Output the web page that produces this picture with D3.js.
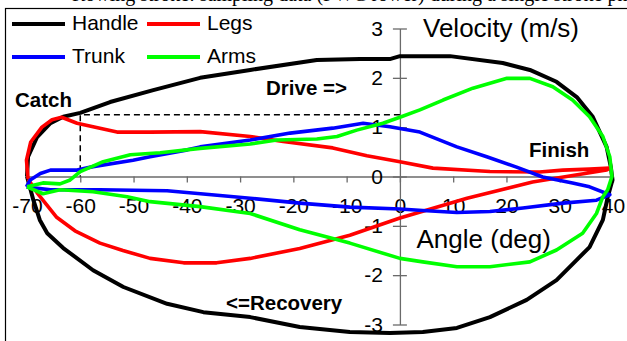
<!DOCTYPE html>
<html>
<head>
<meta charset="utf-8">
<script src="https://cdn.jsdelivr.net/npm/d3@7"></script>
<style>
  body { margin: 0; background: #fff; }
  svg { display: block; font-family: "Liberation Sans", Arial, sans-serif; }
</style>
</head>
<body>
<svg id="chart" width="627" height="341"></svg>
<script>
// angle (deg) / velocity (m/s) loops, drive then recovery
var handleAngle = [-70, -69.8, -68.1, -65.6, -63.2, -60, -54.4, -46.3, -37.5, -28.1, -15.6, -7.5, -1.9, 0, 9.4, 19.3, 24.4, 29.4, 33.2, 36.2, 38.8, 39.6, 39.9,
  39, 38.1, 35.6, 33.2, 29.4, 23.8, 16.9, 10.7, 4.3, -1.9, -9.4, -18.8, -28.1, -36.9, -43.7, -51.9, -57.6, -63.2, -66.2, -67.6, -68.8, -70];
var handleVel = [0, 0.4, 0.8, 1.08, 1.21, 1.29, 1.51, 1.75, 2.0, 2.16, 2.36, 2.38, 2.38, 2.44, 2.44, 2.3, 2.16, 1.92, 1.61, 1.21, 0.6, 0.19, -0.07,
  -0.42, -0.88, -1.43, -1.69, -2.1, -2.5, -2.85, -3.07, -3.15, -3.17, -3.15, -3.05, -2.85, -2.75, -2.58, -2.24, -1.9, -1.45, -1.15, -0.88, -0.48, 0];

var legsAngle = [-69.8, -70.1, -69.3, -67.2, -65.3, -63.5, -60.6, -53.1, -46.9, -37.5, -28.1, -21.9, -12.6, -6.2, 0, 6.2, 16.9, 26.2, 30.6, 35.6, 39.4,
  38.8, 24.9, 12.6, 0, -9.4, -18.8, -28.1, -34.4, -40.6, -46.9, -52, -56.3, -61, -64.5, -68.1, -69.8];
var legsVel = [-0.05, 0.33, 0.7, 1.0, 1.15, 1.2, 1.08, 0.9, 0.9, 0.91, 0.81, 0.71, 0.58, 0.42, 0.3, 0.17, 0.1, 0.09, 0.13, 0.15, 0.17,
  0.13, -0.11, -0.44, -0.84, -1.19, -1.46, -1.66, -1.75, -1.75, -1.66, -1.5, -1.35, -1.1, -0.82, -0.33, -0.05];

var trunkAngle = [-70.1, -69.4, -67.5, -65.6, -60.6, -57.6, -50.1, -46.9, -39.9, -37.5, -28.1, -20.6, -12.6, -6.9, -1.9, 3.75, 10.7, 16.3, 21.9, 26.8, 32.4, 35.6, 39.4,
  36.9, 30.6, 23.1, 16.9, 10.7, 4.3, 0, -9.4, -18.8, -28.1, -34.3, -43.7, -56.3, -65.6, -68.8, -70.1];
var trunkVel = [-0.21, -0.07, 0.06, 0.13, 0.13, 0.2, 0.33, 0.4, 0.54, 0.6, 0.74, 0.88, 0.98, 1.08, 1.01, 0.9, 0.6, 0.4, 0.19, -0.01, -0.13, -0.21, -0.37,
  -0.48, -0.54, -0.64, -0.71, -0.73, -0.69, -0.66, -0.62, -0.54, -0.44, -0.38, -0.29, -0.27, -0.27, -0.23, -0.21];

var armsAngle = [-70, -67, -63.8, -61.9, -60, -55.7, -50.6, -45, -37.5, -28.1, -23.1, -15.6, -11.8, -8.1, -3.2, 0, 3.75, 8.1, 13.7, 20.1, 24.4, 28.7, 32.4, 35.6, 38.1, 39.4, 39.8,
  39, 38.1, 36.9, 34.3, 29.4, 24.4, 16.9, 10.7, 4.3, 0, -9.4, -18.8, -28.1, -37.5, -46.9, -51.2, -57.6, -63.8, -67, -70];
var armsVel = [-0.21, -0.13, -0.15, -0.07, 0.1, 0.3, 0.44, 0.48, 0.57, 0.66, 0.74, 0.76, 0.81, 0.94, 1.08, 1.2, 1.35, 1.55, 1.79, 1.99, 1.99, 1.82, 1.55, 1.21, 0.81, 0.4, 0.0,
  -0.27, -0.41, -0.75, -1.15, -1.49, -1.73, -1.83, -1.83, -1.73, -1.66, -1.35, -1.08, -0.75, -0.61, -0.51, -0.41, -0.31, -0.27, -0.35, -0.21];

var seriesNames = ["Handle", "Legs", "Trunk", "Arms"];
var seriesColors = ["#000000", "#ff0000", "#0000ff", "#00ff00"];
var xTicks = [-70, -60, -50, -40, -30, -20, -10, 0, 10, 20, 30, 40];
var yTicks = [-3, -2, -1, 0, 1, 2, 3];
var catchAngle = -60, catchVel = 1.25;

var svg = d3.select("#chart");

var x = d3.scaleLinear().domain([-70, 40]).range([27, 613]);
var y = d3.scaleLinear().domain([-3, 3]).range([324.5, 28.5]);

// caption of the page above, mostly cut off by the picture edge
svg.append("text")
    .attr("x", 72).attr("y", 0.5)
    .style("font-family", "'Liberation Serif', serif")
    .style("font-size", "20px")
    .text("Rowing stroke: sampling data (PWC rower) during a single stroke phase");
svg.append("rect")
    .attr("x", 5.5).attr("y", 8.5)
    .attr("width", 700).attr("height", 400)
    .attr("fill", "none").attr("stroke", "#000").attr("stroke-width", 1.2);

// axes
var axisColor = "#6a6a6a";
var fmt = function(d) { return String(d); };
var gx = svg.append("g")
    .attr("transform", "translate(0," + y(0) + ")")
    .call(d3.axisBottom(x).tickValues(xTicks).tickFormat(fmt)
      .tickSizeInner(6).tickSizeOuter(0).tickPadding(15.5));
var gy = svg.append("g")
    .attr("transform", "translate(" + x(0) + ",0)")
    .call(d3.axisLeft(y).tickValues(yTicks).tickFormat(fmt)
      .tickSizeInner(7).tickSizeOuter(0).tickPadding(10));
gy.selectAll(".tick line").attr("x1", 7);
[gx, gy].forEach(function(g) {
  g.select(".domain").attr("stroke", axisColor).attr("stroke-width", 1.3);
  g.selectAll(".tick line").attr("stroke", axisColor).attr("stroke-width", 1.3);
  g.selectAll(".tick text")
      .attr("fill", "#000")
      .style("font-size", "21px")
      .style("font-family", "'Liberation Sans', Arial, sans-serif");
});

// catch dashed marker
svg.append("path")
    .attr("d", "M" + x(0) + "," + y(catchVel) + "H" + x(catchAngle) + "V" + y(0))
    .attr("fill", "none")
    .attr("stroke", "#000")
    .attr("stroke-width", 1.5)
    .attr("stroke-dasharray", "6,4");

// loops
var line = d3.line()
    .x(function(d) { return x(d[0]); })
    .y(function(d) { return y(d[1]); });

var loops = [
  d3.zip(handleAngle, handleVel),
  d3.zip(legsAngle, legsVel),
  d3.zip(trunkAngle, trunkVel),
  d3.zip(armsAngle, armsVel)
];

svg.selectAll(".loop")
  .data(loops)
  .enter().append("path")
    .attr("class", "loop")
    .attr("d", line)
    .attr("fill", "none")
    .attr("stroke", function(d, i) { return seriesColors[i]; })
    .attr("stroke-width", function(d, i) { return i == 0 ? 4 : 3.6; })
    .attr("stroke-linejoin", "round");

// axis titles
svg.append("text").attr("x", 423).attr("y", 36.5)
    .style("font-size", "26px").text("Velocity (m/s)");
svg.append("text").attr("x", 416.5).attr("y", 248)
    .style("font-size", "26px").text("Angle (deg)");

// phase labels
var notes = [
  {t: "Catch", x: 15, y: 106.5},
  {t: "Drive =>", x: 266, y: 94.5},
  {t: "Finish", x: 529, y: 157},
  {t: "<=Recovery", x: 226, y: 310}
];
svg.selectAll(".note")
  .data(notes)
  .enter().append("text")
    .attr("class", "note")
    .attr("x", function(d) { return d.x; })
    .attr("y", function(d) { return d.y; })
    .style("font-size", "20.5px")
    .style("font-weight", "bold")
    .text(function(d) { return d.t; });

// legend
var legend = svg.selectAll(".legend")
  .data(seriesNames)
  .enter().append("g")
    .attr("class", "legend")
    .attr("transform", function(d, i) {
      return "translate(" + (12 + (i % 2) * 135) + "," + (24 + Math.floor(i / 2) * 33) + ")";
    });

legend.append("line")
    .attr("x1", 0).attr("x2", 53)
    .attr("stroke", function(d, i) { return seriesColors[i]; })
    .attr("stroke-width", 4);

legend.append("text")
    .attr("x", 60)
    .attr("y", 6)
    .style("font-size", "21px")
    .text(function(d) { return d; });
</script>
</body>
</html>
